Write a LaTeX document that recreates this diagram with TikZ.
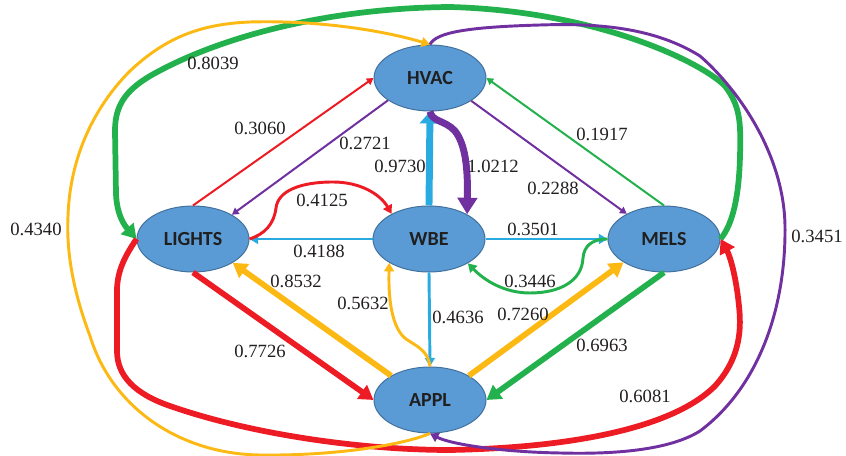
\documentclass[tikz,border=0pt]{standalone}
\usepackage{fontspec}
\setmainfont{Liberation Serif}
\newfontfamily\nodefont{Carlito}
\usetikzlibrary{arrows.meta,shapes.geometric}
\definecolor{nodeblue}{HTML}{5B9BD5}
\definecolor{nodeedge}{HTML}{41719C}
\definecolor{ered}{HTML}{ED1C24}
\definecolor{egreen}{HTML}{22B14C}
\definecolor{eyellow}{HTML}{FDB913}
\definecolor{epurple}{HTML}{7030A0}
\definecolor{ecyan}{HTML}{29ABE2}
\definecolor{labeltext}{HTML}{231F20}
\begin{document}
\begin{tikzpicture}[x=0.75pt,y=0.75pt,
  state/.style={ellipse, draw=nodeedge, line width=0.75pt, fill=nodeblue,
    minimum width=84pt, minimum height=49.5pt, inner sep=0pt,
    font=\nodefont\bfseries\fontsize{15}{18}\selectfont, text=black!88},
  edge/.style={-{Triangle[length=2pt 2, width=2pt 2.4]}},
  shortedge/.style={-{Triangle[length=9pt, width=15pt]}},
  thinw/.style={line width=1.5pt},
  medw/.style={line width=2.2pt},
  thickw/.style={line width=4.3pt},
  heavyw/.style={line width=5.2pt},
  wlab/.style={font=\fontsize{14}{16}\selectfont, text=labeltext, inner sep=0pt}
]
\useasboundingbox (0,0) rectangle (846,456);

% nodes
\node[state] (HVAC) at (430,378) {HVAC};
\node[state] (LIGHTS) at (193,217) {LIGHTS};
\node[state] (WBE) at (429,217) {WBE};
\node[state] (MELS) at (664,217) {MELS};
\node[state] (APPL) at (430,56) {APPL};

% straight edges
\draw[edge,thinw,ered] (LIGHTS.north) -- (HVAC.west);
\draw[edge,thinw,epurple] (HVAC.208) -- (LIGHTS.32);
\draw[shortedge,heavyw,ecyan] (WBE.north) -- (HVAC.south);
\draw[edge,thinw,epurple] (HVAC.-29) -- (MELS.146);
\draw[edge,thinw,egreen] (MELS.north) -- (HVAC.east);
\draw[edge,medw,ecyan] (WBE.west) -- (LIGHTS.east);
\draw[edge,medw,ecyan] (WBE.east) -- (MELS.west);
\draw[edge,medw,ecyan] (WBE.south) -- (APPL.north);
\draw[edge,thickw,ered] (LIGHTS.south) -- (APPL.west);
\draw[edge,thickw,eyellow] (APPL.148) -- (LIGHTS.-31);
\draw[edge,thickw,eyellow] (APPL.32) -- (MELS.210);
\draw[edge,thickw,egreen] (MELS.south) -- (APPL.east);

% curved short edges
\draw[edge,heavyw,epurple] (HVAC.south) .. controls (432,334) and (445,336) .. (455,325)
  .. controls (465,312) and (468,290) .. (WBE.33);
\draw[edge,medw,ered] (LIGHTS.east) .. controls (265,222) and (274,232) .. (276,248)
  .. controls (278,265) and (300,274) .. (333,274)
  .. controls (360,274) and (380,262) .. (WBE.146);
\draw[edge,medw,egreen] (MELS.west) .. controls (592,217) and (584,210) .. (583,198)
  .. controls (582,175) and (560,163) .. (530,163)
  .. controls (505,163) and (485,175) .. (WBE.-32);
\draw[edge,medw,eyellow] (APPL.north) .. controls (428,106) and (416,110) .. (406,117)
  .. controls (394,126) and (388,150) .. (WBE.211);

% long outer edges
\draw[edge,thickw,egreen] (MELS.east) .. controls (733,232) and (739,260) .. (740,300)
  .. controls (741,335) and (740,350) .. (725,370)
  .. controls (700,395) and (595,445) .. (450,449)
  .. controls (330,448) and (220,420) .. (150,380)
  .. controls (125,365) and (115,350) .. (115,325)
  -- (116,262)
  .. controls (117,240) and (125,230) .. (LIGHTS.west);
\draw[edge,thickw,ered] (LIGHTS.west) .. controls (125,200) and (117,185) .. (117,165)
  -- (117,105)
  .. controls (117,80) and (135,62) .. (170,50)
  .. controls (250,22) and (360,6) .. (450,6)
  .. controls (560,8) and (670,25) .. (715,70)
  .. controls (742,100) and (741,130) .. (739,150)
  .. controls (736,180) and (730,200) .. (MELS.east);
\draw[edge,medw,eyellow] (APPL.south) .. controls (405,12) and (340,0) .. (260,1)
  .. controls (180,2) and (112,48) .. (90,120)
  .. controls (75,160) and (66,200) .. (68,240)
  .. controls (70,300) and (95,350) .. (130,385)
  .. controls (165,418) and (200,432) .. (250,434)
  .. controls (320,436) and (385,425) .. (HVAC.north);
\draw[edge,medw,epurple] (HVAC.north) .. controls (436,424) and (470,429) .. (540,431)
  .. controls (600,433) and (655,428) .. (700,400)
  .. controls (740,365) and (784,300) .. (785,230)
  .. controls (786,150) and (760,70) .. (700,25)
  .. controls (665,3) and (600,2) .. (560,3)
  .. controls (500,4) and (450,12) .. (APPL.south);

% labels
\node[wlab] (l8039) at (213,393) {0.8039};
\node[wlab] (l3060) at (260,328) {0.3060};
\node[wlab] (l2721) at (365,313) {0.2721};
\node[wlab] (l9730) at (400,290) {0.9730};
\node[wlab] (l10212) at (493,290) {1.0212};
\node[wlab] (l2288) at (553,268) {0.2288};
\node[wlab] (l1917) at (602,322) {0.1917};
\node[wlab] (l4125) at (322,256) {0.4125};
\node[wlab] (l4188) at (319,205) {0.4188};
\node[wlab] (l4340) at (36,227) {0.4340};
\node[wlab] (l8532) at (296,175) {0.8532};
\node[wlab] (l5632) at (363,153) {0.5632};
\node[wlab] (l7726) at (260,105) {0.7726};
\node[wlab] (l3501) at (533,227) {0.3501};
\node[wlab] (l3446) at (530,175) {0.3446};
\node[wlab] (l3451) at (817,220) {0.3451};
\node[wlab] (l4636) at (458,139) {0.4636};
\node[wlab] (l7260) at (523,142) {0.7260};
\node[wlab] (l6963) at (602,111) {0.6963};
\node[wlab] (l6081) at (645,60) {0.6081};
\end{tikzpicture}
\end{document}
